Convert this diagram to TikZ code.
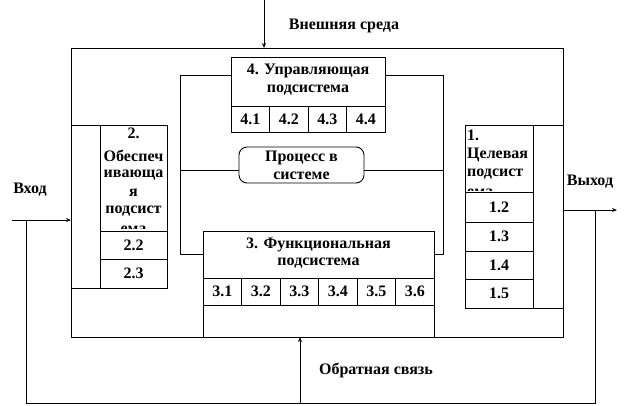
\documentclass[tikz,border=0pt]{standalone}
\usepackage{fontspec}
\setmainfont{Liberation Serif}
\usetikzlibrary{arrows.meta}
\begin{document}
\begin{tikzpicture}[x=1pt,y=-1pt,
  lbl/.style={font=\bfseries\fontsize{16}{18}\selectfont, inner sep=0pt},
  ln/.style={line width=0.9pt},
  arr/.style={ln,-{Stealth[length=5pt,width=4pt]}},
  box/.style={draw, ln, anchor=north west, inner sep=0pt, outer sep=0pt},
  cell/.style={box, font=\bfseries\fontsize{16}{18}\selectfont}]
\useasboundingbox (0,0) rectangle (626,405);
% outer system
\node[box, minimum width=492pt, minimum height=289pt] (outer) at (71,48) {};
% 4. control subsystem
\node[box, minimum width=154pt, minimum height=49pt] (b4) at (231,57) {};
\node[lbl] (b4t1) at (308,71) {4. Управляющая};
\node[lbl] (b4t2) at (308,90) {подсистема};
\foreach \i/\t in {0/4.1,1/4.2,2/4.3,3/4.4}
  \node[cell, minimum width=38.5pt, minimum height=26pt] (c4\i) at ({231+38.5*\i},106) {\t};
% process
\node[draw, ln, rounded corners=8pt, minimum width=125pt, minimum height=36pt, inner sep=0pt] (proc) at (301.5,165) {};
\node[lbl] (pt1) at (301.5,158) {Процесс в};
\node[lbl] (pt2) at (301.5,176) {системе};
% 3. functional subsystem
\node[box, minimum width=231pt, minimum height=106pt] (b3) at (203,231) {};
\node[lbl] (b3t1) at (318.5,245) {3. Функциональная};
\node[lbl] (b3t2) at (318.5,263) {подсистема};
\foreach \i/\t in {0/3.1,1/3.2,2/3.3,3/3.4,4/3.5,5/3.6}
  \node[cell, minimum width=38.5pt, minimum height=27pt] (c3\i) at ({203+38.5*\i},278) {\t};
% inner frame
\coordinate (fl) at (180,75);
\coordinate (fr) at (443,75);
\draw[ln] (b4.north west |- fl) -- (fl) -- (180,254) -- (b3.west |- 0,254);
\draw[ln] (b4.north east |- fr) -- (fr) -- (443,254) -- (b3.east |- 0,254);
\coordinate (pl) at (180,170);
\coordinate (pr) at (443,170);
\draw[ln] (pl) -- (pl -| proc.west);
\draw[ln] (pr) -- (pr -| proc.east);
% 2. supporting subsystem
\node[box, minimum width=96pt, minimum height=163pt] (b2) at (71,125) {};
\draw[ln] (100,125) -- (100,288);
\begin{scope}
  \clip (100,125) rectangle (167,228.5);
  \node[lbl] (b2t1) at (133.5,133) {2.};
  \node[lbl] (b2t2) at (133.5,156) {Обеспеч};
  \node[lbl] (b2t3) at (133.5,175) {ивающа};
  \node[lbl] (b2t4) at (133.5,193) {я};
  \node[lbl] (b2t5) at (133.5,211) {подсист};
  \node[lbl] (b2t6) at (133.5,229.5) {ема};
\end{scope}
\node[cell, minimum width=67pt, minimum height=28pt] (c22) at (100,231) {2.2};
\node[cell, minimum width=67pt, minimum height=29pt] (c23) at (100,259) {2.3};
% 1. target subsystem
\node[box, minimum width=98pt, minimum height=183pt] (b1) at (465,125) {};
\draw[ln] (533,125) -- (533,308);
\begin{scope}
  \clip (465,125) rectangle (533,190);
  \node[lbl, anchor=west] (b1t1) at (467,135) {1.};
  \node[lbl, anchor=west] (b1t2) at (467,155) {Целевая};
  \node[lbl, anchor=west] (b1t3) at (467,174) {подсист};
  \node[lbl, anchor=west] (b1t4) at (467,192.5) {ема};
\end{scope}
\node[cell, minimum width=68pt, minimum height=30pt] (c12) at (465,192) {1.2};
\node[cell, minimum width=68pt, minimum height=29pt] (c13) at (465,222) {1.3};
\node[cell, minimum width=68pt, minimum height=28pt] (c14) at (465,251) {1.4};
\node[cell, minimum width=68pt, minimum height=29pt] (c15) at (465,279) {1.5};
% environment
\coordinate (envtop) at (264,0);
\draw[arr] (envtop) -- (envtop |- outer.north);
\node[lbl] (env) at (344,26) {Внешняя среда};
% input / output
\coordinate (inl) at (12,220);
\draw[arr] (inl) -- (inl -| outer.west);
\node[lbl] (vin) at (30,190) {Вход};
\coordinate (outr) at (617,210);
\draw[arr] (outr -| outer.east) -- (outr);
\node[lbl] (vout) at (590,182) {Выход};
% feedback
\coordinate (fbL) at (26,220);
\coordinate (fbR) at (595,210);
\coordinate (fbB) at (300,403);
\draw[ln] (fbL) -- (fbL |- fbB) -- (fbR |- fbB) -- (fbR);
\draw[arr] (fbB) -- (fbB |- outer.south);
\node[lbl] (fb) at (376,370) {Обратная связь};
\end{tikzpicture}
\end{document}
